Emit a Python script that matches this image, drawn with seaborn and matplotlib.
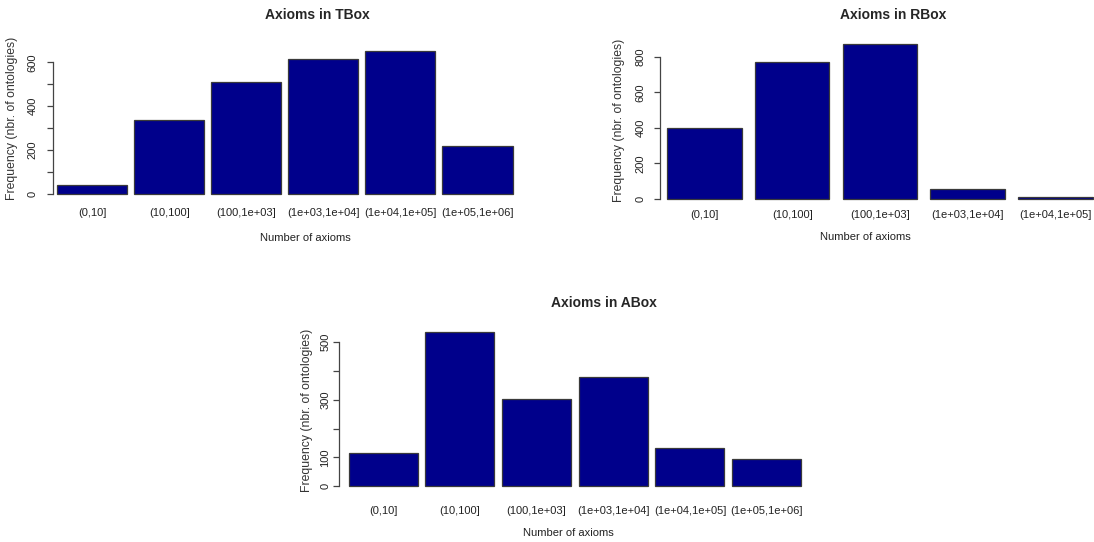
import pandas as pd
import numpy as np
import matplotlib
matplotlib.use("Agg")
import matplotlib.pyplot as plt
import seaborn as sns

# data
tbox_bins = ['(0,10]', '(10,100]', '(100,1e+03]', '(1e+03,1e+04]', '(1e+04,1e+05]', '(1e+05,1e+06]']
tbox_freq = [38, 336, 510, 616, 650, 216]

rbox_bins = ['(0,10]', '(10,100]', '(100,1e+03]', '(1e+03,1e+04]', '(1e+04,1e+05]']
rbox_freq = [401, 772, 871, 54, 10]

abox_bins = ['(0,10]', '(10,100]', '(100,1e+03]', '(1e+03,1e+04]', '(1e+04,1e+05]', '(1e+05,1e+06]']
abox_freq = [115, 537, 302, 380, 132, 95]

tbox_ticks = [0, 100, 200, 300, 400, 500, 600]
tbox_ticklabels = ['0', '', '200', '', '400', '', '600']
rbox_ticks = [0, 200, 400, 600, 800]
rbox_ticklabels = ['0', '200', '400', '600', '800']
abox_ticks = [0, 100, 200, 300, 400, 500]
abox_ticklabels = ['0', '100', '', '300', '', '500']

sns.set_style("white")
plt.rcParams['font.family'] = ['Liberation Sans', 'DejaVu Sans']

W, H = 1094, 542
fig = plt.figure(figsize=(W / 100, H / 100), dpi=100)

BAR = '#00008B'
EDGE = '#3a3a3a'
AXC = '#444444'


def fx(x):
    return x / W


def fy(y):
    return 1 - y / H


def panel(cats, vals, ticks, ticklabels, title, box, xlim, ylim, width,
          title_xy, xlab_xy, ylab_xy, lab_center_y, ylab_center_x):
    l, r, t, b = box
    ax = fig.add_axes([fx(l), fy(b), fx(r - l), (b - t) / H])
    df = pd.DataFrame({'bin': cats, 'freq': vals})
    sns.barplot(data=df, x='bin', y='freq', color=BAR, saturation=1,
                width=width, edgecolor=EDGE, linewidth=0.9, ax=ax)
    ax.set_xlim(*xlim)
    ax.set_ylim(*ylim)
    for s in ['top', 'right', 'bottom']:
        ax.spines[s].set_visible(False)
    ax.spines['left'].set_bounds(ticks[0], ticks[-1])
    ax.spines['left'].set_color(AXC)
    ax.spines['left'].set_linewidth(0.9)
    ax.set_yticks(ticks)
    ax.set_yticklabels(ticklabels, rotation=90, va='center', ha='right')
    # y tick label pad (from end of tick to label edge)
    pad_px = (l - 6) - (ylab_center_x + 5.5)
    ax.tick_params(axis='y', left=True, direction='out', length=4.3, width=0.9,
                   color=AXC, pad=pad_px * 0.72, labelsize=8, labelcolor='#222222')
    xpad = (lab_center_y - 5.5 - b) * 0.72
    ax.tick_params(axis='x', bottom=False, length=0, pad=xpad, labelsize=8,
                   labelcolor='#222222')
    ax.set_xlabel('')
    ax.set_ylabel('')
    fig.text(fx(title_xy[0]), fy(title_xy[1]), title, ha='center', va='center',
             fontsize=10, fontweight='bold')
    fig.text(fx(xlab_xy[0]), fy(xlab_xy[1]), 'Number of axioms', ha='center',
             va='center', fontsize=8, color='#222222')
    fig.text(fx(ylab_xy[0]), fy(ylab_xy[1]), 'Frequency (nbr. of ontologies)',
             ha='center', va='center', rotation=90, fontsize=8.8, color='#333333')
    return ax


panel(tbox_bins, tbox_freq, tbox_ticks, tbox_ticklabels, 'Axioms in TBox',
      (53, 516, 45, 200), (-0.507, 5.5), (-28.8, 679), 0.91,
      (317, 15), (305, 238), (12, 118), 213, 32)

panel(rbox_bins, rbox_freq, rbox_ticks, rbox_ticklabels, 'Axioms in RBox',
      (660, 1094, 40, 205), (-0.507, 4.44), (-33.7, 894), 0.85,
      (893, 15), (865, 237), (619, 120), 215, 640)

panel(abox_bins, abox_freq, abox_ticks, abox_ticklabels, 'Axioms in ABox',
      (339, 805, 325, 492), (-0.577, 5.5), (-19.8, 560), 0.9,
      (604, 303), (568, 533), (307, 410), 512, 325)

fig.savefig('out.png', dpi=100)
